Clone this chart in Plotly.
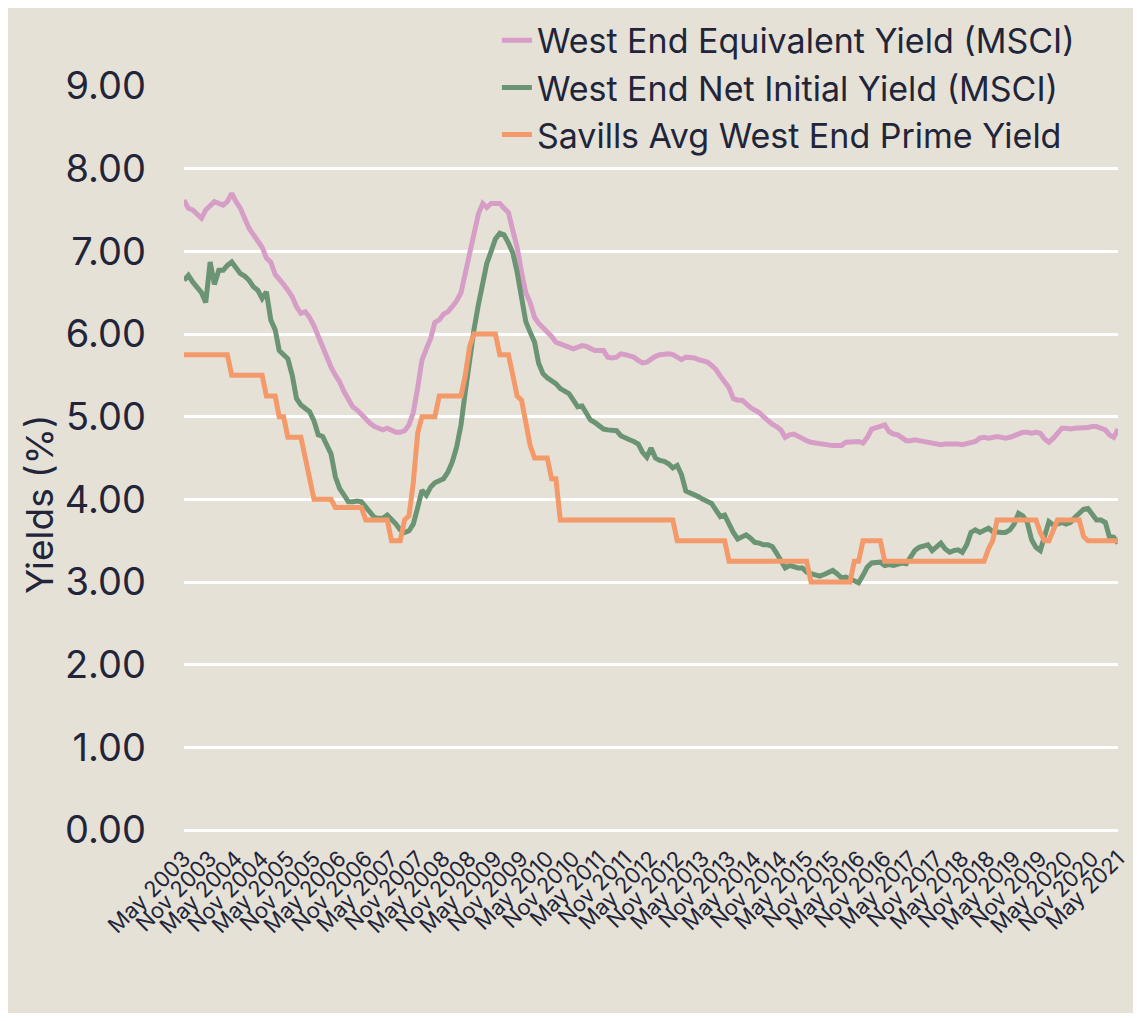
import plotly.graph_objects as go
import pandas as pd

# Monthly observations, May 2003 .. May 2021
dates = pd.date_range("2003-05-01", "2021-05-01", freq="MS")

equivalent_yield = [
    7.62, 7.52, 7.50, 7.45, 7.40, 7.50, 7.55, 7.60, 7.58, 7.56,
    7.60, 7.70, 7.60, 7.52, 7.40, 7.28, 7.20, 7.12, 7.05, 6.92,
    6.87, 6.72, 6.67, 6.60, 6.53, 6.45, 6.33, 6.25, 6.27, 6.20,
    6.10, 5.98, 5.82, 5.70, 5.60, 5.50, 5.42, 5.30, 5.20, 5.12,
    5.08, 5.02, 4.97, 4.92, 4.88, 4.85, 4.84, 4.86, 4.83, 4.81,
    4.81, 4.83, 4.90, 5.05, 5.35, 5.68, 5.82, 5.95, 6.14, 6.17,
    6.24, 6.27, 6.33, 6.40, 6.50, 6.73, 7.01, 7.25, 7.45, 7.58,
    7.53, 7.58, 7.58, 7.58, 7.52, 7.47, 7.25, 7.05, 6.75, 6.50,
    6.38, 6.20, 6.13, 6.08, 6.03, 5.97, 5.90, 5.88, 5.85, 5.83,
    5.82, 5.84, 5.86, 5.85, 5.82, 5.80, 5.80, 5.80, 5.72, 5.71,
    5.72, 5.76, 5.75, 5.73, 5.72, 5.68, 5.65, 5.66, 5.70, 5.73,
    5.75, 5.76, 5.76, 5.75, 5.71, 5.69, 5.72, 5.72, 5.71, 5.69,
    5.68, 5.66, 5.62, 5.57, 5.49, 5.43, 5.35, 5.22, 5.20, 5.20,
    5.15, 5.11, 5.08, 5.05, 5.00, 4.95, 4.91, 4.88, 4.84, 4.75,
    4.78, 4.79, 4.76, 4.73, 4.71, 4.69, 4.68, 4.67, 4.66, 4.65,
    4.65, 4.65, 4.65, 4.69, 4.69, 4.69, 4.70, 4.68, 4.75, 4.85,
    4.87, 4.88, 4.90, 4.82, 4.79, 4.78, 4.75, 4.71, 4.71, 4.72,
    4.71, 4.70, 4.70, 4.69, 4.67, 4.66, 4.67, 4.67, 4.68, 4.67,
    4.66, 4.67, 4.68, 4.70, 4.74, 4.75, 4.74, 4.75, 4.76, 4.75,
    4.74, 4.75, 4.77, 4.79, 4.81, 4.81, 4.80, 4.81, 4.80, 4.73,
    4.69, 4.74, 4.80, 4.86, 4.86, 4.85, 4.86, 4.86, 4.86, 4.87,
    4.88, 4.88, 4.86, 4.84, 4.78, 4.75, 4.85,
]

net_initial_yield = [
    6.65, 6.71, 6.63, 6.56, 6.50, 6.38, 6.87, 6.60, 6.77, 6.77,
    6.83, 6.87, 6.80, 6.73, 6.70, 6.65, 6.57, 6.53, 6.43, 6.51,
    6.17, 6.05, 5.80, 5.75, 5.70, 5.50, 5.22, 5.14, 5.09, 5.06,
    4.95, 4.78, 4.76, 4.65, 4.55, 4.27, 4.13, 4.05, 3.97, 3.97,
    3.98, 3.97, 3.90, 3.83, 3.78, 3.77, 3.77, 3.81, 3.76, 3.70,
    3.63, 3.60, 3.62, 3.70, 3.90, 4.11, 4.05, 4.15, 4.20, 4.22,
    4.25, 4.33, 4.45, 4.63, 4.90, 5.30, 5.70, 6.05, 6.35, 6.62,
    6.85, 7.00, 7.15, 7.22, 7.20, 7.10, 6.98, 6.75, 6.45, 6.15,
    6.02, 5.90, 5.65, 5.52, 5.47, 5.44, 5.40, 5.34, 5.30, 5.28,
    5.20, 5.12, 5.13, 5.05, 4.96, 4.93, 4.89, 4.85, 4.84, 4.84,
    4.83, 4.77, 4.74, 4.72, 4.70, 4.67, 4.57, 4.51, 4.62, 4.50,
    4.47, 4.46, 4.43, 4.38, 4.41, 4.30, 4.10, 4.08, 4.06, 4.03,
    4.00, 3.98, 3.95, 3.87, 3.79, 3.81, 3.70, 3.60, 3.52, 3.55,
    3.57, 3.53, 3.48, 3.47, 3.45, 3.45, 3.43, 3.35, 3.26, 3.17,
    3.20, 3.18, 3.17, 3.17, 3.12, 3.10, 3.08, 3.07, 3.09, 3.11,
    3.14, 3.10, 3.05, 3.06, 3.04, 3.02, 2.99, 3.08, 3.18, 3.23,
    3.24, 3.24, 3.20, 3.21, 3.20, 3.22, 3.23, 3.22, 3.30, 3.38,
    3.42, 3.44, 3.45, 3.38, 3.42, 3.47, 3.40, 3.36, 3.38, 3.39,
    3.36, 3.45, 3.60, 3.63, 3.60, 3.63, 3.65, 3.61, 3.60, 3.60,
    3.60, 3.63, 3.70, 3.83, 3.80, 3.72, 3.51, 3.42, 3.38, 3.55,
    3.73, 3.69, 3.71, 3.72, 3.70, 3.72, 3.78, 3.84, 3.88, 3.89,
    3.82, 3.75, 3.75, 3.72, 3.55, 3.54, 3.47,
]

savills_prime_yield = [
    5.75, 5.75, 5.75, 5.75, 5.75, 5.75, 5.75, 5.75, 5.75, 5.75,
    5.75, 5.50, 5.50, 5.50, 5.50, 5.50, 5.50, 5.50, 5.50, 5.25,
    5.25, 5.25, 5.00, 5.00, 4.75, 4.75, 4.75, 4.75, 4.50, 4.25,
    4.00, 4.00, 4.00, 4.00, 4.00, 3.90, 3.90, 3.90, 3.90, 3.90,
    3.90, 3.90, 3.75, 3.75, 3.75, 3.75, 3.75, 3.75, 3.50, 3.50,
    3.50, 3.75, 3.80, 4.20, 4.80, 5.00, 5.00, 5.00, 5.00, 5.25,
    5.25, 5.25, 5.25, 5.25, 5.25, 5.50, 5.85, 6.00, 6.00, 6.00,
    6.00, 6.00, 6.00, 5.75, 5.75, 5.75, 5.50, 5.25, 5.20, 4.90,
    4.65, 4.50, 4.50, 4.50, 4.50, 4.25, 4.25, 3.75, 3.75, 3.75,
    3.75, 3.75, 3.75, 3.75, 3.75, 3.75, 3.75, 3.75, 3.75, 3.75,
    3.75, 3.75, 3.75, 3.75, 3.75, 3.75, 3.75, 3.75, 3.75, 3.75,
    3.75, 3.75, 3.75, 3.75, 3.50, 3.50, 3.50, 3.50, 3.50, 3.50,
    3.50, 3.50, 3.50, 3.50, 3.50, 3.50, 3.25, 3.25, 3.25, 3.25,
    3.25, 3.25, 3.25, 3.25, 3.25, 3.25, 3.25, 3.25, 3.25, 3.25,
    3.25, 3.25, 3.25, 3.25, 3.25, 3.00, 3.00, 3.00, 3.00, 3.00,
    3.00, 3.00, 3.00, 3.00, 3.00, 3.25, 3.25, 3.50, 3.50, 3.50,
    3.50, 3.50, 3.25, 3.25, 3.25, 3.25, 3.25, 3.25, 3.25, 3.25,
    3.25, 3.25, 3.25, 3.25, 3.25, 3.25, 3.25, 3.25, 3.25, 3.25,
    3.25, 3.25, 3.25, 3.25, 3.25, 3.25, 3.40, 3.50, 3.75, 3.75,
    3.75, 3.75, 3.75, 3.75, 3.75, 3.75, 3.75, 3.75, 3.60, 3.50,
    3.50, 3.65, 3.75, 3.75, 3.75, 3.75, 3.75, 3.75, 3.55, 3.50,
    3.50, 3.50, 3.50, 3.50, 3.50, 3.50, 3.50,
]

series_names = [
    "West End Equivalent Yield (MSCI)",
    "West End Net Initial Yield (MSCI)",
    "Savills Avg West End Prime Yield",
]
series_values = [equivalent_yield, net_initial_yield, savills_prime_yield]
series_colors = ["#D69DC6", "#6A9473", "#F4996A"]

y_ticks = [0, 1, 2, 3, 4, 5, 6, 7, 8, 9]

BG = "#E5E1D6"
TXT = "#22253A"
FONT = "Inter"

fig = go.Figure()
for name, vals, col in zip(series_names, series_values, series_colors):
    fig.add_trace(go.Scatter(
        x=dates, y=vals, name=name, mode="lines",
        line=dict(color=col, width=5), legendgroup=name,
    ))

fig.update_layout(
    width=1125, height=1005,
    margin=dict(l=176, r=15, t=78, b=183, autoexpand=False),
    paper_bgcolor=BG,
    plot_bgcolor=BG,
    font=dict(family=FONT, color=TXT),
    showlegend=True,
    legend=dict(
        x=0.335, y=1.100, xanchor="left", yanchor="top",
        bgcolor="rgba(0,0,0,0)", font=dict(size=34, color=TXT, family=FONT),
        tracegroupgap=0, traceorder="grouped",
    ),
    annotations=[dict(
        text="Yields (%)", xref="paper", yref="paper",
        x=-0.154, y=0.437, xanchor="center", yanchor="middle",
        textangle=-90, showarrow=False,
        font=dict(size=37, color=TXT, family=FONT),
    )],
)

fig.update_xaxes(
    range=[dates[0], dates[-1]],
    tick0="2003-05-01", dtick="M6", tickformat="%b %Y",
    tickangle=-45, tickfont=dict(size=22, color=TXT, family=FONT),
    showgrid=False, zeroline=False, showline=False,
    ticks="outside", ticklen=6, tickcolor="rgba(0,0,0,0)",
)
fig.update_yaxes(
    range=[0, 9], tickvals=y_ticks, tickformat=".2f",
    tickfont=dict(size=38, color=TXT, family=FONT),
    showgrid=True, gridcolor="white", gridwidth=3,
    zeroline=True, zerolinecolor="white", zerolinewidth=3,
    showline=False, ticklabelstandoff=37,
)

fig.write_html("out.html")
